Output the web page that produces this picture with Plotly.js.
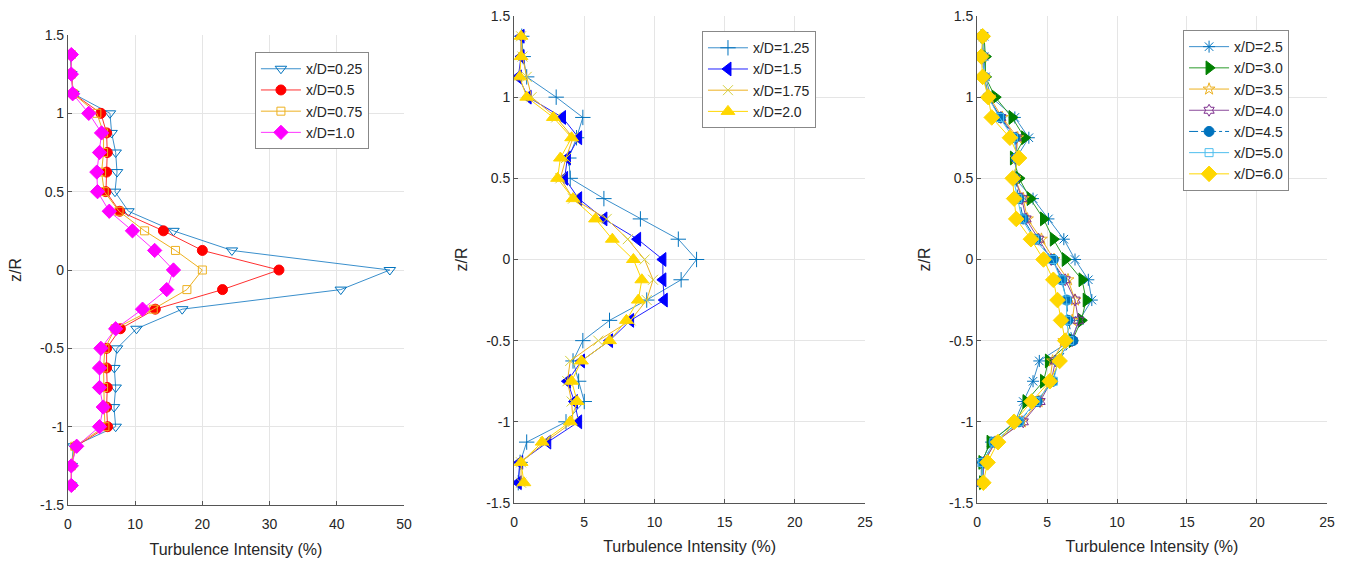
<!DOCTYPE html>
<html>
<head>
<meta charset="utf-8">
<script src="https://cdn.plot.ly/plotly-3.0.1.min.js"></script>
<style>html,body{margin:0;padding:0;background:#fff}#chart{width:1351px;height:567px}</style>
</head>
<body>
<div id="chart"></div>
<script>
// z/R positions (shared by all series)
const zR = [1.375,1.25,1.125,1.0,0.875,0.75,0.625,0.5,0.375,0.25,0.125,0,-0.125,-0.25,-0.375,-0.5,-0.625,-0.75,-0.875,-1.0,-1.125,-1.25,-1.375];

// Panel 1
const ti_025 = [0.3,0.5,0.8,6.25,6.5,7.1,7.3,7.0,9.0,15.7,24.4,47.9,40.6,17.0,10.2,7.3,6.9,7.1,6.85,7.1,0.8,0.55,0.5];
const ti_050 = [0.5,0.5,0.8,4.9,5.75,5.85,5.75,5.65,7.7,14.2,20.0,31.4,23.0,13.0,7.8,5.75,5.75,5.85,5.75,5.9,1.2,0.5,0.5];
const ti_075 = [0.5,0.5,0.8,4.3,5.3,5.3,5.0,5.4,7.6,11.4,16.0,20.0,17.7,12.7,7.0,5.5,5.3,5.3,5.4,5.5,1.0,0.5,0.5];
const ti_100 = [0.5,0.5,0.7,3.1,5.0,4.7,4.3,4.4,6.15,9.6,12.9,15.7,14.7,11.1,7.1,4.9,4.7,4.7,5.25,4.7,1.3,0.5,0.5];

// Panel 2
const ti_125 = [0.55,0.65,0.9,3.0,4.9,4.45,3.9,4.0,6.4,9.0,11.7,13.0,11.9,9.45,6.8,4.9,4.2,4.6,5.0,3.7,0.9,0.43,0.3];
const ti_150 = [0.5,0.5,0.3,1.0,3.45,4.6,3.8,3.6,4.6,6.4,8.8,10.6,10.6,10.7,8.3,6.8,4.8,3.8,4.3,4.6,2.4,0.4,0.3];
const ti_175 = [0.5,0.6,0.9,1.25,3.0,4.2,3.7,3.3,4.2,6.6,8.1,9.3,9.9,9.45,8.3,6.0,4.0,3.8,4.1,4.2,2.2,0.5,0.5];
const ti_200 = [0.5,0.5,0.4,0.9,2.8,4.1,3.3,3.1,4.2,5.8,7.0,8.5,9.1,8.85,8.0,6.8,4.8,4.1,4.5,4.0,2.0,0.5,0.7];

// Panel 3
const ti_250 = [0.5,0.5,0.6,1.0,2.7,3.7,2.8,2.7,4.0,5.1,6.2,7.0,7.95,8.2,7.3,6.7,4.45,4.0,3.3,2.7,1.0,0.3,0.3];
const ti_300 = [0.5,0.6,0.6,1.3,2.5,3.4,2.6,3.0,3.8,4.75,5.45,6.3,7.5,7.8,7.45,6.8,5.1,4.75,3.5,2.8,0.93,0.35,0.4];
const ti_350 = [0.4,0.4,0.5,0.9,1.8,2.9,2.8,2.7,3.3,3.6,4.6,5.5,6.5,7.0,6.8,6.2,5.4,5.2,4.4,3.2,1.3,0.5,0.4];
const ti_400 = [0.4,0.4,0.5,0.8,1.7,2.8,2.8,2.7,3.2,3.5,4.4,5.3,6.3,7.0,7.25,6.8,5.6,5.3,4.5,3.3,1.3,0.5,0.4];
const ti_450 = [0.4,0.4,0.5,0.8,1.65,2.7,2.8,2.7,3.0,3.3,4.2,5.45,6.05,6.4,6.5,6.85,5.8,5.4,4.3,3.0,1.2,0.4,0.4];
const ti_500 = [0.4,0.4,0.5,0.8,1.6,2.6,2.9,2.6,2.9,3.2,4.1,5.4,6.0,6.4,6.4,6.6,5.8,5.45,4.2,3.0,1.2,0.4,0.4];
const ti_600 = [0.4,0.3,0.4,0.8,1.05,2.35,3.0,2.55,2.65,2.8,3.85,4.75,5.45,5.75,6.0,6.3,5.9,5.2,3.9,2.65,1.5,0.75,0.45];

const names1 = ["x/D=0.25","x/D=0.5","x/D=0.75","x/D=1.0"];
const names2 = ["x/D=1.25","x/D=1.5","x/D=1.75","x/D=2.0"];
const names3 = ["x/D=2.5","x/D=3.0","x/D=3.5","x/D=4.0","x/D=4.5","x/D=5.0","x/D=6.0"];

const yTicks = [-1.5,-1,-0.5,0,0.5,1,1.5];
const yTickText = ["-1.5","-1","-0.5","0","0.5","1","1.5"];
const xTicks1 = [0,10,20,30,40,50];
const xTicks23 = [0,5,10,15,20,25];

function tr(x, name, ax, leg, color, lineColor, symbol, size, dash){
  return {
    x: x, y: zR, name: name, type: 'scatter', mode: 'lines+markers',
    xaxis: 'x'+ax, yaxis: 'y'+ax, legend: leg,
    line: {color: lineColor || color, width: 1, dash: dash || 'solid'},
    marker: {symbol: symbol, size: size, color: color,
             line: {color: color, width: 1}}
  };
}

const data = [
  tr(ti_025, names1[0], '', 'legend',  '#0072BD', '#3a8fcc', 'triangle-down-open', 10),
  tr(ti_050, names1[1], '', 'legend',  '#FF0000', '#FF3030', 'circle', 10),
  tr(ti_075, names1[2], '', 'legend',  '#EDB120', '#EDB120', 'square-open', 8),
  tr(ti_100, names1[3], '', 'legend',  '#FF00FF', '#FF33FF', 'diamond', 11),

  tr(ti_125, names2[0], '2', 'legend2', '#0072BD', '#3a8fcc', 'cross-thin-open', 11),
  tr(ti_150, names2[1], '2', 'legend2', '#0000FF', '#2020FF', 'triangle-left', 12),
  tr(ti_175, names2[2], '2', 'legend2', '#D4D040', '#EDB120', 'x-thin-open', 10),
  tr(ti_200, names2[3], '2', 'legend2', '#FFD700', '#FFD700', 'triangle-up', 12),

  tr(ti_250, names3[0], '3', 'legend3', '#0072BD', '#3a8fcc', 'asterisk-open', 10),
  tr(ti_300, names3[1], '3', 'legend3', '#008000', '#2a9a2a', 'triangle-right', 12),
  tr(ti_350, names3[2], '3', 'legend3', '#EDB120', '#EDB120', 'star-open', 9),
  tr(ti_400, names3[3], '3', 'legend3', '#7E2F8E', '#8a4a9a', 'hexagram-open', 9),
  tr(ti_450, names3[4], '3', 'legend3', '#0072BD', '#0072BD', 'circle', 10, 'dashdot'),
  tr(ti_500, names3[5], '3', 'legend3', '#4DBEEE', '#4DBEEE', 'square-open', 8),
  tr(ti_600, names3[6], '3', 'legend3', '#FFD700', '#FFD700', 'diamond', 12)
];

const fnt = {family: 'Liberation Sans, Arial, sans-serif', size: 14, color: '#262626'};
function xa(domain, range, ticks){
  return {domain: domain, range: range, tickvals: ticks, ticktext: ticks.map(String),
    showgrid: true, gridcolor: '#e5e5e5', gridwidth: 1, zeroline: false,
    showline: true, linecolor: '#555', linewidth: 1, mirror: false,
    ticks: 'inside', ticklen: 4, tickcolor: '#555', tickfont: fnt, ticklabelstandoff: 6,
    title: {text: 'Turbulence Intensity (%)', font: {family: fnt.family, size: 16, color: '#262626'}, standoff: 12}};
}
function ya(domain, anchor){
  return {domain: domain, range: [-1.5, 1.5], tickvals: yTicks, ticktext: yTickText, anchor: anchor,
    showgrid: true, gridcolor: '#e5e5e5', gridwidth: 1, zeroline: false,
    showline: true, linecolor: '#555', linewidth: 1,
    ticks: 'inside', ticklen: 4, tickcolor: '#555', tickfont: fnt,
    title: {text: 'z/R', font: {family: fnt.family, size: 16, color: '#262626'}, standoff: 14}};
}
const legBase = {bgcolor: '#fff', bordercolor: '#888', borderwidth: 1,
  font: {family: fnt.family, size: 14, color: '#262626'},
  xanchor: 'left', yanchor: 'top', tracegroupgap: 0, itemwidth: 40};

const layout = {
  width: 1351, height: 567, margin: {l: 0, r: 0, t: 0, b: 0},
  paper_bgcolor: '#fff', plot_bgcolor: '#fff', showlegend: true,
  font: fnt,
  xaxis:  Object.assign(xa([0.0503, 0.2990], [0, 50], xTicks1), {anchor: 'y'}),
  yaxis:  ya([0.1093, 0.9383], 'x'),
  xaxis2: Object.assign(xa([0.3805, 0.6403], [0, 25], xTicks23), {anchor: 'y2'}),
  yaxis2: ya([0.1129, 0.9718], 'x2'),
  xaxis3: Object.assign(xa([0.7232, 0.9822], [0, 25], xTicks23), {anchor: 'y3'}),
  yaxis3: ya([0.1129, 0.9718], 'x3'),
  legend:  Object.assign({}, legBase, {x: 0.1887, y: 0.908}),
  legend2: Object.assign({}, legBase, {x: 0.5196, y: 0.945}),
  legend3: Object.assign({}, legBase, {x: 0.8757, y: 0.947})
};

Plotly.newPlot('chart', data, layout, {displayModeBar: false, staticPlot: true});
</script>
</body>
</html>
